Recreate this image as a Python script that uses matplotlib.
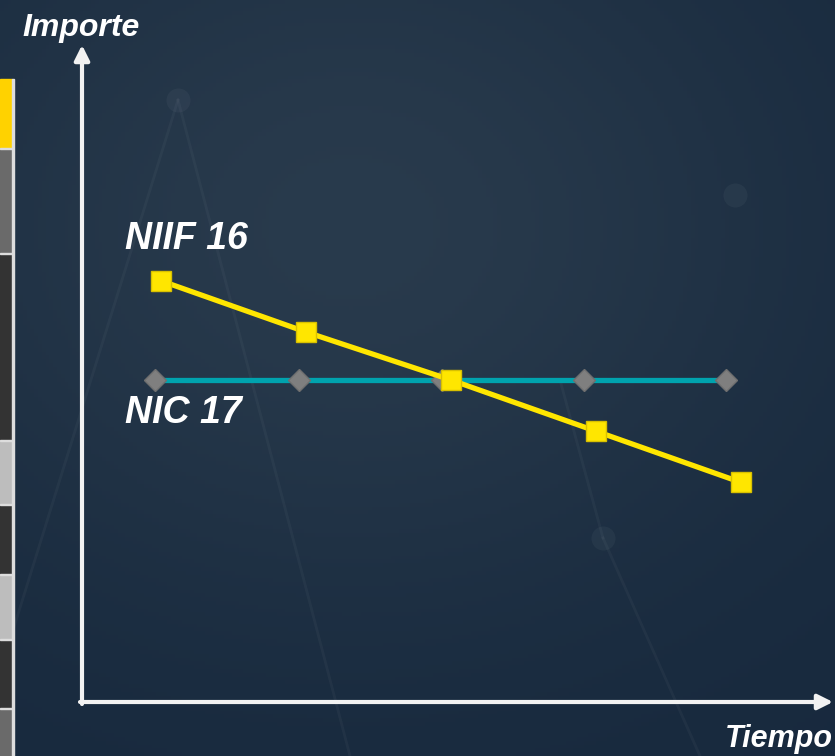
import numpy as np
import matplotlib.pyplot as plt
from matplotlib.patches import Rectangle

# datos (periodos de tiempo e importes)
periodos_niif = [1, 2, 3, 4, 5]
importe_niif = [131, 115, 100, 84, 68]
periodos_nic = [0.96, 1.95, 2.94, 3.92, 4.9]
importe_nic = [100, 100, 100, 100, 100]

W, H = 835, 756
fig = plt.figure(figsize=(W / 100, H / 100), dpi=100)

# fondo degradado azul oscuro
bg = fig.add_axes([0, 0, 1, 1])
yy, xx = np.mgrid[0:1:200j, 0:1:220j]
luz = np.exp(-(((xx - 0.42) / 0.55) ** 2 + ((yy - 0.3) / 0.5) ** 2))
oscuro = np.array([0.09, 0.16, 0.24])
claro = np.array([0.16, 0.23, 0.30])
img = oscuro + (claro - oscuro) * luz[..., None]
bg.imshow(img, aspect="auto", extent=[0, 1, 0, 1], origin="upper")
# lineas tenues de la red del fondo
for (x0, y0, x1, y1) in [(178, 100, 350, 756), (178, 100, 10, 640), (603, 538, 700, 756), (603, 538, 560, 380)]:
    bg.plot([x0 / W, x1 / W], [1 - y0 / H, 1 - y1 / H], color="white", alpha=0.035, lw=2)
for (cx, cy) in [(178, 100), (603, 538), (735, 195)]:
    bg.scatter([cx / W], [1 - cy / H], s=300, color="white", alpha=0.04, lw=0)
bg.set_xlim(0, 1)
bg.set_ylim(0, 1)
bg.axis("off")

# franja lateral de la diapositiva
bloques = [(79, 149, "#FFD200"), (149, 254, "#6A6A6A"), (254, 441, "#333333"),
           (441, 505, "#BDBDBD"), (505, 575, "#333333"), (575, 640, "#BDBDBD"),
           (640, 709, "#333333"), (709, 756, "#6A6A6A")]
for y0, y1, c in bloques:
    fig.patches.append(Rectangle((0, 1 - y1 / H), 12 / W, (y1 - y0) / H,
                                 transform=fig.transFigure, color=c, zorder=1))
for y in [149, 254, 441, 505, 575, 640, 709]:
    fig.patches.append(Rectangle((0, 1 - y / H), 12 / W, 1.2 / H,
                                 transform=fig.transFigure, color="#DDDDDD", zorder=2))
fig.patches.append(Rectangle((12 / W, 0), 1.5 / W, 1 - 79 / H,
                             transform=fig.transFigure, color="#DDDDDD", zorder=2))

ax = fig.add_axes([0, 0, 1, 1])
ax.patch.set_alpha(0)
ax.set_xlim(1 - 161 / 145, 1 + (W - 161) / 145)
ax.set_ylim(-(H - 700) / 3.2, 700 / 3.2)
ax.axis("off")

ax.plot(periodos_nic, importe_nic, color="#00A3AE", lw=3.8, marker="D",
        markersize=11, markerfacecolor="#7F7F7F", markeredgecolor="#6F6F6F", zorder=3)
ax.plot(periodos_niif, importe_niif, color="#FFE600", lw=3.8, marker="s",
        markersize=14, markerfacecolor="#FFE600", markeredgecolor="#D8C000", zorder=4)

# ejes con flechas
ax.annotate("", xy=(82 / W, 1 - 45 / H), xytext=(82 / W, 1 - 704 / H),
            xycoords="figure fraction", textcoords="figure fraction",
            arrowprops=dict(arrowstyle="-|>,head_length=0.9,head_width=0.45",
                            color="#F2F2F2", lw=3, shrinkA=0, shrinkB=0))
ax.annotate("", xy=(833 / W, 1 - 702 / H), xytext=(80 / W, 1 - 702 / H),
            xycoords="figure fraction", textcoords="figure fraction",
            arrowprops=dict(arrowstyle="-|>,head_length=0.9,head_width=0.45",
                            color="#F2F2F2", lw=3, shrinkA=0, shrinkB=0))

fuente = dict(family="Liberation Sans", weight="bold", style="italic", color="white")
fig.text(22 / W, 1 - 28 / H, "Importe", fontsize=23, va="center", ha="left", **fuente)
fig.text(833 / W, 1 - 739 / H, "Tiempo", fontsize=22, va="center", ha="right", **fuente)
fig.text(125 / W, 1 - 239 / H, "NIIF 16", fontsize=27, va="center", ha="left", **fuente)
fig.text(125 / W, 1 - 413 / H, "NIC 17", fontsize=27, va="center", ha="left", **fuente)

fig.savefig("out.png", dpi=100)
